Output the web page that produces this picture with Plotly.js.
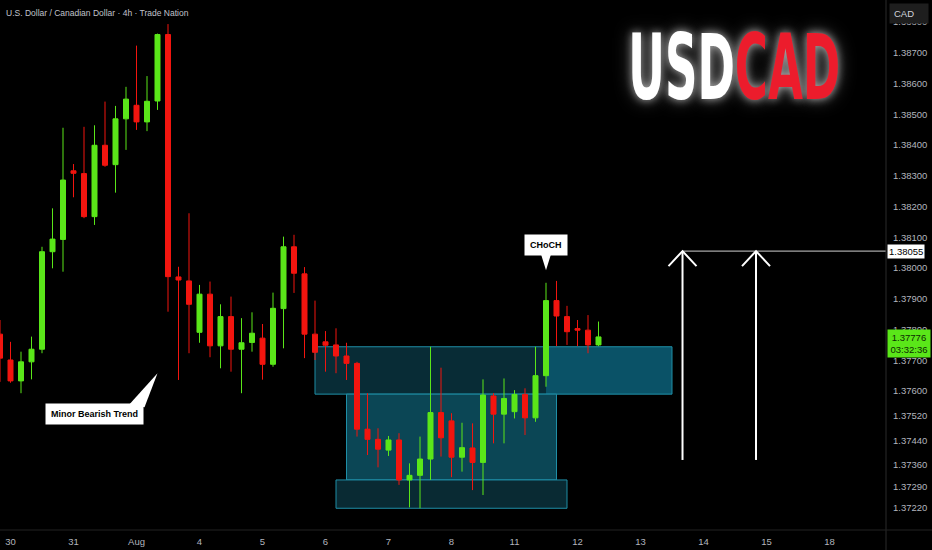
<!DOCTYPE html>
<html>
<head>
<meta charset="utf-8">
<script src="https://cdn.plot.ly/plotly-3.0.1.min.js"></script>
<style>
  html, body { margin: 0; padding: 0; background: #000; }
  #chart { width: 932px; height: 550px; }
</style>
</head>
<body>
<div id="chart"></div>
<script>
// ---- data (4h candles, USD/CAD) ----
const times = [
  '2025-07-29 20:00',
  '2025-07-30 00:00','2025-07-30 04:00','2025-07-30 08:00','2025-07-30 12:00','2025-07-30 16:00','2025-07-30 20:00',
  '2025-07-31 00:00','2025-07-31 04:00','2025-07-31 08:00','2025-07-31 12:00','2025-07-31 16:00','2025-07-31 20:00',
  '2025-08-01 00:00','2025-08-01 04:00','2025-08-01 08:00','2025-08-01 12:00','2025-08-01 16:00','2025-08-01 20:00',
  '2025-08-04 00:00','2025-08-04 04:00','2025-08-04 08:00','2025-08-04 12:00','2025-08-04 16:00','2025-08-04 20:00',
  '2025-08-05 00:00','2025-08-05 04:00','2025-08-05 08:00','2025-08-05 12:00','2025-08-05 16:00','2025-08-05 20:00',
  '2025-08-06 00:00','2025-08-06 04:00','2025-08-06 08:00','2025-08-06 12:00','2025-08-06 16:00','2025-08-06 20:00',
  '2025-08-07 00:00','2025-08-07 04:00','2025-08-07 08:00','2025-08-07 12:00','2025-08-07 16:00','2025-08-07 20:00',
  '2025-08-08 00:00','2025-08-08 04:00','2025-08-08 08:00','2025-08-08 12:00','2025-08-08 16:00','2025-08-08 20:00',
  '2025-08-11 00:00','2025-08-11 04:00','2025-08-11 08:00','2025-08-11 12:00','2025-08-11 16:00','2025-08-11 20:00',
  '2025-08-12 00:00','2025-08-12 04:00','2025-08-12 08:00'
];
const open = [
  1.37785,
  1.37701,1.37633,1.37695,1.37736,1.38053,1.38093,
  1.38316,1.38307,1.38167,1.38399,1.38336,1.38485,
  1.38529,1.38475,1.38543,1.38759,1.37971,1.37958,
  1.37791,1.37915,1.37747,1.37842,1.37736,1.37758,
  1.37772,1.37687,1.37868,1.38069,1.37981,1.37785,
  1.37760,1.37750,1.37714,1.37690,1.37476,1.37443,
  1.37408,1.37441,1.37311,1.37326,1.37379,1.37530,
  1.37503,1.37385,1.37415,1.37368,1.37584,1.37525,
  1.37533,1.37589,1.37513,1.37650,1.37894,1.37842,
  1.37803,1.37798,1.37750
];
const high = [
  1.37831,
  1.37760,1.37728,1.37777,1.38069,1.38194,1.38456,
  1.38338,1.38459,1.38464,1.38541,1.38527,1.38589,
  1.38723,1.38624,1.38762,1.38793,1.38004,1.38178,
  1.37945,1.37956,1.37882,1.37907,1.37837,1.37856,
  1.37818,1.37920,1.38102,1.38108,1.38003,1.37894,
  1.37795,1.37804,1.37757,1.37695,1.37593,1.37479,
  1.37454,1.37463,1.37365,1.37452,1.37744,1.37676,
  1.37528,1.37497,1.37495,1.37638,1.37593,1.37641,
  1.37603,1.37609,1.37744,1.37952,1.37958,1.37877,
  1.37831,1.37847,1.37826
];
const low = [
  1.37630,
  1.37627,1.37593,1.37638,1.37723,1.37999,1.37988,
  1.38230,1.38162,1.38140,1.38329,1.38245,1.38384,
  1.38449,1.38445,1.38514,1.37858,1.37636,1.37723,
  1.37757,1.37710,1.37674,1.37663,1.37593,1.37728,
  1.37637,1.37679,1.37739,1.37919,1.37707,1.37701,
  1.37663,1.37658,1.37636,1.37452,1.37392,1.37352,
  1.37389,1.37295,1.37222,1.37219,1.37311,1.37387,
  1.37320,1.37338,1.37278,1.37262,1.37430,1.37430,
  1.37511,1.37457,1.37500,1.37614,1.37746,1.37750,
  1.37746,1.37723,1.37746
];
const close = [
  1.37707,
  1.37633,1.37695,1.37736,1.38053,1.38094,1.38286,
  1.38308,1.38167,1.38399,1.38334,1.38485,1.38549,
  1.38475,1.38542,1.38759,1.37972,1.37961,1.37882,
  1.37915,1.37747,1.37842,1.37736,1.37757,1.37788,
  1.37687,1.37869,1.38069,1.37983,1.37785,1.37726,
  1.37749,1.37714,1.37690,1.37476,1.37443,1.37411,
  1.37441,1.37311,1.37326,1.37379,1.37530,1.37448,
  1.37385,1.37416,1.37368,1.37587,1.37525,1.37576,
  1.37589,1.37513,1.37650,1.37894,1.37844,1.37793,
  1.37798,1.37750,1.37776
];

// axis ticks
const dayTicks = ['2025-07-30','2025-07-31','2025-08-01','2025-08-04','2025-08-05','2025-08-06','2025-08-07',
                  '2025-08-08','2025-08-11','2025-08-12','2025-08-13','2025-08-14','2025-08-15','2025-08-18'];
const dayLabels = ['30','31','Aug','4','5','6','7','8','11','12','13','14','15','18'];
const priceTicks = [1.388,1.387,1.386,1.385,1.384,1.383,1.382,1.381,1.380,1.379,1.378,1.377,1.376,
                    1.3752,1.3744,1.3736,1.3729,1.3722];

// drawing anchors (time / price)
const xRange = ['2025-07-29 20:00', '2025-08-18 21:31'];
const yRange = [1.371483, 1.388713];
const lastPrice = 1.37776;
const targetPrice = 1.38055;
const arrowTimes = ['2025-08-13 16:00', '2025-08-14 20:00'];
const arrowBase = 1.37376;
const zoneUpper = {t0: '2025-08-05 20:00', tMid: '2025-08-11 12:00', t1: '2025-08-13 12:00', top: 1.37744, bottom: 1.37590};
const zoneMid = {t0: '2025-08-06 08:00', t1: '2025-08-11 16:00', top: 1.37590, bottom: 1.37311};
const zoneLow = {t0: '2025-08-06 04:00', t1: '2025-08-11 20:00', top: 1.37311, bottom: 1.37219};
const bearLabel = {t: '2025-07-31 08:00', p: 1.37527, tipT: '2025-08-01 08:00', tipP: 1.37658};
const chochLabel = {t: '2025-08-11 12:00', p: 1.38076, tipP: 1.37993};

const GREEN = '#5ae619';
const RED = '#f2150f';
const TICK = '#b2b5be';
const ZONE_LINE = '#1f8ea6';

const trace = {
  type: 'candlestick',
  x: times, open: open, high: high, low: low, close: close,
  increasing: {line: {color: GREEN, width: 1}, fillcolor: GREEN},
  decreasing: {line: {color: RED, width: 1}, fillcolor: RED},
  whiskerwidth: 0,
  hoverinfo: 'skip',
  showlegend: false
};

const shapes = [
  // zones
  {type: 'rect', xref: 'x', yref: 'y', x0: zoneUpper.t0, x1: zoneUpper.t1, y0: zoneUpper.bottom, y1: zoneUpper.top,
   fillcolor: '#082c36', line: {width: 0}, layer: 'below'},
  {type: 'rect', xref: 'x', yref: 'y', x0: zoneUpper.tMid, x1: zoneUpper.t1, y0: zoneUpper.bottom, y1: zoneUpper.top,
   fillcolor: '#0a5267', line: {width: 0}, layer: 'below'},
  {type: 'rect', xref: 'x', yref: 'y', x0: zoneUpper.t0, x1: zoneUpper.t1, y0: zoneUpper.bottom, y1: zoneUpper.top,
   fillcolor: 'rgba(0,0,0,0)', line: {color: ZONE_LINE, width: 1}, layer: 'below'},
  {type: 'rect', xref: 'x', yref: 'y', x0: zoneMid.t0, x1: zoneMid.t1, y0: zoneMid.bottom, y1: zoneMid.top,
   fillcolor: '#0b4655', line: {color: ZONE_LINE, width: 1}, layer: 'below'},
  {type: 'rect', xref: 'x', yref: 'y', x0: zoneLow.t0, x1: zoneLow.t1, y0: zoneLow.bottom, y1: zoneLow.top,
   fillcolor: '#092a33', line: {color: ZONE_LINE, width: 1}, layer: 'below'},
  // target line
  {type: 'line', xref: 'x', yref: 'y', x0: arrowTimes[0], x1: xRange[1], y0: targetPrice, y1: targetPrice,
   line: {color: '#d0d0d0', width: 1}},
  // arrows
  {type: 'line', xref: 'x', yref: 'y', x0: arrowTimes[0], x1: arrowTimes[0], y0: arrowBase, y1: targetPrice,
   line: {color: '#ffffff', width: 2}},
  {type: 'line', xref: 'x', yref: 'y', x0: arrowTimes[1], x1: arrowTimes[1], y0: arrowBase, y1: targetPrice,
   line: {color: '#ffffff', width: 2}},
  {type: 'path', xref: 'x', yref: 'y', xsizemode: 'pixel', ysizemode: 'pixel',
   xanchor: arrowTimes[0], yanchor: targetPrice, path: 'M -14 -15 L 0 0 L 14 -15',
   line: {color: '#ffffff', width: 2}},
  {type: 'path', xref: 'x', yref: 'y', xsizemode: 'pixel', ysizemode: 'pixel',
   xanchor: arrowTimes[1], yanchor: targetPrice, path: 'M -14 -15 L 0 0 L 14 -15',
   line: {color: '#ffffff', width: 2}},
  // callout pointers
  {type: 'path', xref: 'x', yref: 'y', xsizemode: 'pixel', ysizemode: 'pixel',
   xanchor: bearLabel.tipT, yanchor: bearLabel.tipP, path: 'M 0 0 L -28 -31 L -13 -34 Z',
   fillcolor: '#ffffff', line: {width: 0}},
  {type: 'path', xref: 'x', yref: 'y', xsizemode: 'pixel', ysizemode: 'pixel',
   xanchor: chochLabel.t, yanchor: chochLabel.tipP, path: 'M 0 0 L -5 16 L 5 16 Z',
   fillcolor: '#ffffff', line: {width: 0}},
  // right price-scale separator
  {type: 'line', xref: 'paper', yref: 'paper', x0: 1, x1: 1, y0: -0.05, y1: 1,
   line: {color: '#2a2a2a', width: 1}},
  {type: 'line', xref: 'paper', yref: 'paper', x0: 0, x1: 1.06, y0: 0, y1: 0,
   line: {color: '#222222', width: 1}}
];

const labelFont = {family: 'Liberation Sans, Arial, sans-serif', size: 9, color: '#000000', weight: 'bold'};

const annotations = [
  {text: 'U.S. Dollar / Canadian Dollar · 4h · Trade Nation', xref: 'paper', yref: 'paper', x: 0, y: 1,
   xanchor: 'left', yanchor: 'top', xshift: 4, yshift: -6, showarrow: false,
   font: {family: 'Liberation Sans, Arial, sans-serif', size: 8.5, color: '#c0c3cc'}},
  {text: 'USD<span style="color:#ec1c2c">CAD</span>', xref: 'paper', yref: 'paper', x: 0.829, y: 0.872,
   xanchor: 'center', yanchor: 'middle', showarrow: false, name: 'brand',
   font: {family: 'DejaVu Sans Condensed, DejaVu Sans, sans-serif', size: 90, color: '#ffffff', weight: 'bold',
          shadow: '0 0 9px rgba(255,255,255,0.6), 0 0 20px rgba(255,255,255,0.35)'}},
  {text: 'Minor Bearish Trend', xref: 'x', yref: 'y', x: bearLabel.t, y: bearLabel.p, showarrow: false,
   bgcolor: '#ffffff', borderpad: 5, font: labelFont},
  {text: 'CHoCH', xref: 'x', yref: 'y', x: chochLabel.t, y: chochLabel.p, showarrow: false,
   bgcolor: '#ffffff', borderpad: 5, font: labelFont},
  {text: 'CAD', xref: 'paper', yref: 'paper', x: 1, y: 1, xanchor: 'left', yanchor: 'top',
   xshift: 3, yshift: -3, showarrow: false, bgcolor: '#1e1e1e', borderpad: 4, width: 30, align: 'left',
   font: {family: 'Liberation Sans, Arial, sans-serif', size: 9.5, color: '#d1d4dc'}},
  {text: targetPrice.toFixed(5), xref: 'paper', yref: 'y', x: 1, y: targetPrice, xanchor: 'left', yanchor: 'middle',
   xshift: 1, showarrow: false, bgcolor: '#ffffff', borderpad: 1,
   font: {family: 'Liberation Sans, Arial, sans-serif', size: 9.5, color: '#000000'}},
  {text: lastPrice.toFixed(5) + '<br>03:32:36', xref: 'paper', yref: 'y', x: 1, y: lastPrice, xanchor: 'left', yanchor: 'top',
   xshift: 1, yshift: 8, showarrow: false, bgcolor: GREEN, borderpad: 2, width: 38,
   font: {family: 'Liberation Sans, Arial, sans-serif', size: 9.5, color: '#0d2a03'}}
];

const layout = {
  width: 932, height: 550,
  margin: {l: 0, r: 46, t: 0, b: 20, pad: 0},
  paper_bgcolor: '#000000', plot_bgcolor: '#000000',
  showlegend: false, hovermode: false, dragmode: false,
  boxgap: 0.32,
  xaxis: {
    type: 'date', range: xRange,
    rangebreaks: [{bounds: ['sat', 'mon']}],
    rangeslider: {visible: false},
    tickmode: 'array', tickvals: dayTicks, ticktext: dayLabels,
    showgrid: false, zeroline: false, showline: false, ticks: '',
    tickfont: {family: 'Liberation Sans, Arial, sans-serif', size: 9.5, color: TICK},
    ticklabelstandoff: 4, fixedrange: true
  },
  yaxis: {
    side: 'right', range: yRange,
    tickmode: 'array', tickvals: priceTicks, ticktext: priceTicks.map(v => v.toFixed(5)),
    showgrid: false, zeroline: false, showline: false, ticks: '',
    tickfont: {family: 'Liberation Sans, Arial, sans-serif', size: 9.5, color: TICK},
    ticklabelstandoff: 6, fixedrange: true
  },
  shapes: shapes,
  annotations: annotations
};

Plotly.newPlot('chart', [trace], layout, {displayModeBar: false, staticPlot: true}).then(gd => {
  // narrow the brand wordmark to a condensed look
  gd.querySelectorAll('.annotation-text').forEach(t => {
    if (t.textContent === 'USDCAD') {
      const bb = t.getBBox();
      const s = 212 / bb.width;
      t.style.transformBox = 'fill-box';
      t.style.transformOrigin = 'center';
      t.style.transform = 'scaleX(' + s.toFixed(3) + ')';
    }
  });
});
</script>
</body>
</html>
